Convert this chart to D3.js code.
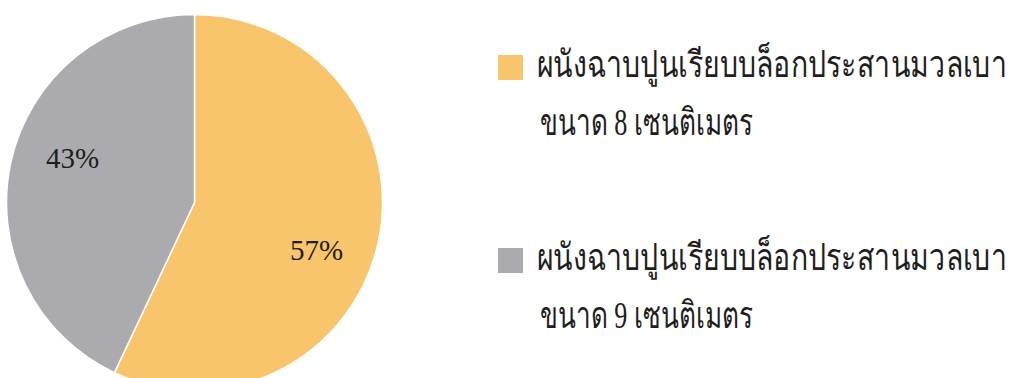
<!DOCTYPE html>
<html><head><meta charset="utf-8">
<script src="https://cdn.jsdelivr.net/npm/d3@7"></script>
<style>body{margin:0;background:#fff}svg{display:block}</style>
</head><body>
<svg id="c" width="1012" height="378"></svg>
<script>
const categories = ["ผนังฉาบปูนเรียบบล็อกประสานมวลเบา ขนาด 8 เซนติเมตร", "ผนังฉาบปูนเรียบบล็อกประสานมวลเบา ขนาด 9 เซนติเมตร"];
const legendLine1 = ["ผนังฉาบปูนเรียบบล็อกประสานมวลเบา", "ผนังฉาบปูนเรียบบล็อกประสานมวลเบา"];
const legendLine2 = ["ขนาด 8 เซนติเมตร", "ขนาด 9 เซนติเมตร"];
const values = [57, 43];
const colors = ["#F8C56C", "#ABABAF"];

const svg = d3.select("#c");
const cx = 194.5, cy = 202.5, r = 188;
const pie = d3.pie().sort(null).value(d => d)(values);
const arc = d3.arc().innerRadius(0).outerRadius(r);
const g = svg.append("g").attr("transform", `translate(${cx},${cy})`);
g.selectAll("path").data(pie).enter().append("path")
  .attr("d", arc).attr("fill", (d,i) => colors[i])
  .attr("stroke", "#fff").attr("stroke-width", 1.5);

const labelPos = [[122, 57], [-122, -35]];
g.selectAll("text.lbl").data(pie).enter().append("text")
  .attr("class","lbl")
  .attr("x", (d,i) => labelPos[i][0]).attr("y", (d,i) => labelPos[i][1])
  .attr("text-anchor","middle")
  .attr("font-family","'Liberation Serif', serif").attr("font-size", 29)
  .attr("fill", "#1e1e1e")
  .text(d => d.value + "%");

function fitText(sel, x, y, w) {
  const len = sel.node().getComputedTextLength();
  const s = w / len;
  sel.attr("transform", `translate(${x},${y}) scale(${s},1)`);
}

const lg = svg.append("g");
const ly = [55, 248];
categories.forEach((c, i) => {
  lg.append("rect").attr("x", 498).attr("y", ly[i]).attr("width", 25).attr("height", 25).attr("fill", colors[i]);
  const t1 = lg.append("text")
    .attr("font-family","'Liberation Serif', serif").attr("font-size", 37).attr("fill","#1e1e1e")
    .text(legendLine1[i]);
  fitText(t1, 537, ly[i] + 22, 467);
  const t2 = lg.append("text")
    .attr("font-family","'Liberation Serif', serif").attr("font-size", 37).attr("fill","#1e1e1e")
    .text(legendLine2[i]);
  fitText(t2, 540, ly[i] + 80, 212);
});
</script>
</body></html>
